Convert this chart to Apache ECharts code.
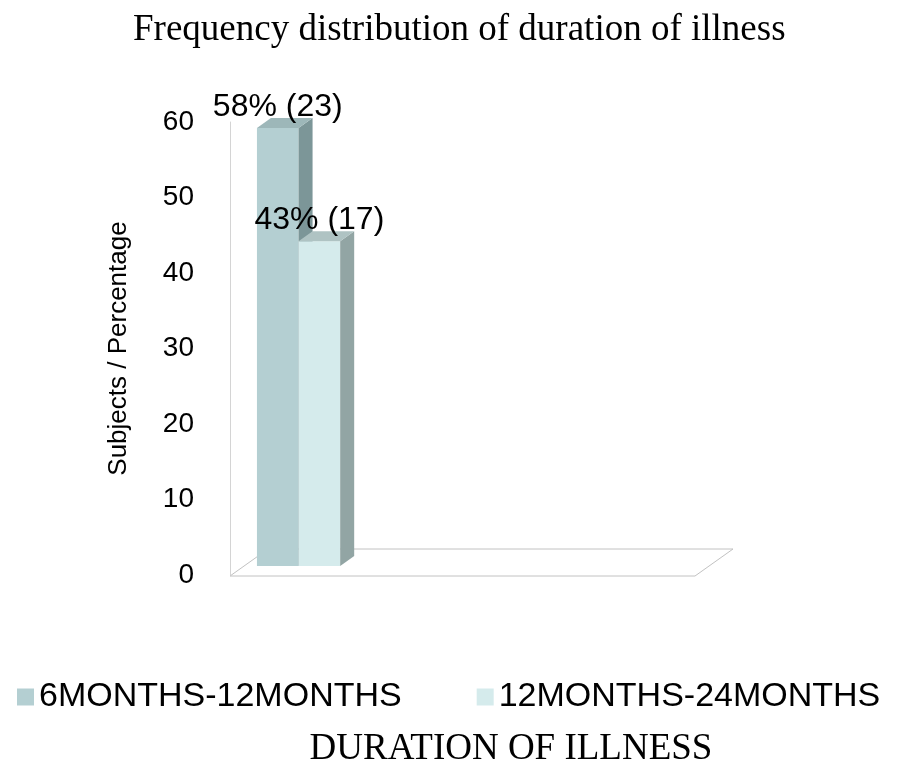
<!DOCTYPE html>
<html>
<head>
<meta charset="utf-8">
<title>Frequency distribution of duration of illness</title>
<script src="https://cdn.jsdelivr.net/npm/echarts@6/dist/echarts.min.js"></script>
<style>
  html, body { margin: 0; padding: 0; background: #fff; }
  #chart { width: 900px; height: 773px; }
</style>
</head>
<body>
<div id="chart"></div>
<script>
// ---- data ----
const categories = ['Duration of illness'];
const seriesNames = ['6MONTHS-12MONTHS', '12MONTHS-24MONTHS'];
const percentages = [58, 43];
const subjects = [23, 17];
const yTicks = [0, 10, 20, 30, 40, 50, 60];

// ---- styling / layout ----
const GRID = { left: 230, right: 205, top: 122, bottom: 197 };
const FLOOR_DX = 38, FLOOR_DY = -27;      // oblique depth of the floor
const BAR_OFF_X = 13, BAR_OFF_Y = -9;     // bars sit a third of the way back
const BAR_DX = 14, BAR_DY = -10;          // depth of each bar block
const GROUP_START = 0.03;                 // fraction of band before first bar
const BAR_FRAC = 0.0895;                  // bar width as fraction of band
const FACE_COLORS = [
  { front: '#b4cfd2', top: '#9db7b9', side: '#7c9698' },
  { front: '#d5ebec', top: '#afc3c3', side: '#92a5a4' }
];
const SANS = '"Liberation Sans", Arial, sans-serif';
const SERIF = '"Liberation Serif", "Times New Roman", serif';

const chart = echarts.init(document.getElementById('chart'));

function renderBlock(params, api) {
  const si = params.seriesIndex;
  const cat = api.value(0);
  const val = api.value(1);
  const base = api.coord([cat, 0]);
  const top = api.coord([cat, val]);
  const band = api.size([1, 0])[0];
  const w = band * BAR_FRAC;
  const x0 = base[0] - band / 2 + band * GROUP_START + si * w + BAR_OFF_X;
  const x1 = x0 + w;
  const yb = base[1] + BAR_OFF_Y;
  const yt = top[1] + BAR_OFF_Y;
  const c = FACE_COLORS[si];
  return {
    type: 'group',
    children: [
      { type: 'polygon', shape: { points: [[x0, yb], [x1, yb], [x1, yt], [x0, yt]] },
        style: { fill: c.front } },
      { type: 'polygon', shape: { points: [[x1, yb], [x1 + BAR_DX, yb + BAR_DY], [x1 + BAR_DX, yt + BAR_DY], [x1, yt]] },
        style: { fill: c.side } },
      { type: 'polygon', shape: { points: [[x0, yt], [x1, yt], [x1 + BAR_DX, yt + BAR_DY], [x0 + BAR_DX, yt + BAR_DY]] },
        style: { fill: c.top } },
      { type: 'text', x: (x0 + x1) / 2, y: yt - 21, z2: 10,
        style: { text: percentages[si] + '% (' + subjects[si] + ')', font: '32px ' + SANS,
                 fill: '#000', align: 'center', verticalAlign: 'middle' } }
    ]
  };
}

// floor plane of the plot, derived from the grid box
const fx0 = GRID.left, fx1 = 900 - GRID.right, fy = 773 - GRID.bottom;
const floorPoints = [[fx0, fy], [fx0 + FLOOR_DX, fy + FLOOR_DY], [fx1 + FLOOR_DX, fy + FLOOR_DY], [fx1, fy]];

chart.setOption({
  animation: false,
  backgroundColor: '#fff',
  title: {
    text: 'Frequency distribution of duration of illness',
    left: 128,
    top: 7,
    padding: 5,
    textStyle: { fontFamily: SERIF, fontSize: 37, fontWeight: 'normal', color: '#000' }
  },
  legend: {
    data: seriesNames,
    left: 12,
    top: 675,
    itemWidth: 17,
    itemHeight: 17,
    itemGap: 75,
    icon: 'rect',
    textStyle: { fontFamily: SANS, fontSize: 34, color: '#000' }
  },
  grid: { left: GRID.left, right: GRID.right, top: GRID.top, bottom: GRID.bottom },
  xAxis: {
    type: 'category',
    data: categories,
    axisLine: { show: false },
    axisTick: { show: false },
    axisLabel: { show: false },
    name: 'DURATION OF ILLNESS',
    nameLocation: 'middle',
    nameGap: 156,
    nameTextStyle: { fontFamily: SERIF, fontSize: 37, color: '#000', padding: [0, 0, 0, 97] }
  },
  yAxis: {
    type: 'value',
    min: yTicks[0],
    max: yTicks[yTicks.length - 1],
    interval: yTicks[1] - yTicks[0],
    axisLine: { show: true, lineStyle: { color: '#d4d4d4', width: 1 } },
    axisTick: { show: false },
    splitLine: { show: false },
    axisLabel: { margin: 36, fontFamily: SANS, fontSize: 28, color: '#000' },
    name: 'Subjects / Percentage',
    nameLocation: 'middle',
    nameGap: 98,
    nameRotate: 90,
    nameTextStyle: { fontFamily: SANS, fontSize: 26, color: '#000' }
  },
  graphic: [{
    type: 'polygon',
    z: 0,
    silent: true,
    shape: { points: floorPoints },
    style: { fill: '#fff', stroke: '#c2c2c2', lineWidth: 1 }
  }],
  series: seriesNames.map((name, i) => ({
    name: name,
    type: 'custom',
    z: 3 + i,
    itemStyle: { color: FACE_COLORS[i].front },
    renderItem: renderBlock,
    encode: { x: 0, y: 1 },
    data: [[0, percentages[i]]]
  }))
});
</script>
</body>
</html>
